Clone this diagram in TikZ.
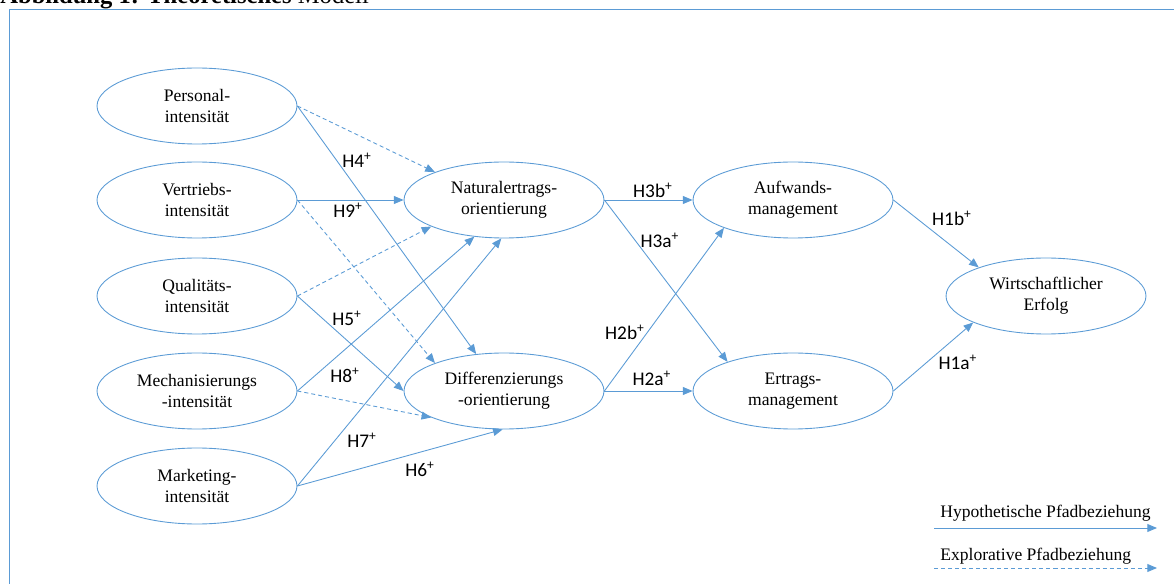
\documentclass[tikz,border=0pt]{standalone}
\usepackage{fontspec}
\setmainfont{Liberation Serif}
\newfontfamily\labelfont{Carlito}
\usetikzlibrary{shapes.geometric,arrows.meta}
\definecolor{pathblue}{HTML}{5B9BD5}
\tikzset{
  construct/.style={ellipse, draw=pathblue, line width=0.5pt, minimum width=4cm,
    minimum height=1.52cm, inner sep=0pt, align=center, font=\fontsize{10}{12}\selectfont},
  hyp/.style={draw=pathblue, line width=0.5pt, -{Triangle[length=5.5pt,width=4.5pt]}},
  expl/.style={hyp, dash pattern=on 2.3pt off 1.7pt},
  hlabel/.style={font=\labelfont\fontsize{11}{13}\selectfont, inner sep=0pt},
  legendtext/.style={anchor=base west, inner sep=0pt, font=\fontsize{10}{12}\selectfont}
}
\begin{document}
\begin{tikzpicture}[x=0.02cm, y=-0.02cm]
  \useasboundingbox (0,0) rectangle (1174,584);
  \clip (0,0) rectangle (1174,584);

  % caption and frame
  \node[anchor=base west, inner sep=0pt, font=\fontsize{14}{16}\selectfont] (title) at (0,4)
    {\textbf{Abbildung 1: Theoretisches} Modell};
  \draw[pathblue, line width=0.5pt] (9,9) rectangle (1200,600);

  % exogenous constructs
  \foreach \name/\y/\txt in {pers/106/Personal-\\intensität, vertr/200/Vertriebs-\\intensität,
      qual/296/Qualitäts-\\intensität, mech/391/Mechanisierungs\\-intensität,
      mark/486/Marketing-\\intensität} {
    \node[construct] (\name) at (197,\y) {\txt};
  }

  % strategic orientations
  \node[construct] (natur) at (504,200) {Naturalertrags-\\orientierung};
  \node[construct] (diff) at (504,391) {Differenzierungs\\-orientierung};

  % management and success
  \node[construct] (aufw) at (793,200) {Aufwands-\\management};
  \node[construct] (ertr) at (793,391) {Ertrags-\\management};
  \node[construct] (erfolg) at (1046,296) {Wirtschaftlicher\\Erfolg};

  % hypothetical paths
  \foreach \src/\dst in {vertr/natur.180, mech/natur.231, mark/natur.266,
      pers/diff.127, qual/diff.180, mark/diff.268} {
    \draw[hyp] (\src.east) -- (\dst);
  }
  \foreach \src/\dst in {natur.east/aufw.west, natur.east/ertr.156, diff.east/aufw.202,
      diff.east/ertr.west, aufw.east/erfolg.157, ertr.east/erfolg.200} {
    \draw[hyp] (\src) -- (\dst);
  }

  % explorative paths
  \foreach \src/\dst in {pers/natur.158, qual/natur.200, vertr/diff.158, mech/diff.200} {
    \draw[expl] (\src.east) -- (\dst);
  }

  % path labels
  \foreach \x/\y/\h in {357/160/4, 348/210/9, 347/318/5, 345/375/8, 362/440/7, 420/469/6,
      653/190/3b, 660/240/3a, 625/332/2b, 652/378/2a, 952/218/1b, 958/362/1a} {
    \node[hlabel] (h\h) at (\x,\y) {H\h\textsuperscript{+}};
  }

  % legend
  \node[legendtext] (hyplegend) at (940,517) {Hypothetische Pfadbeziehung};
  \coordinate (hypstart) at (934,528);
  \coordinate (hypend) at (1157,528);
  \draw[hyp] (hypstart) -- (hypend);
  \node[legendtext] (expllegend) at (940,560) {Explorative Pfadbeziehung};
  \coordinate (explstart) at (934,568);
  \coordinate (explend) at (1157,568);
  \draw[expl] (explstart) -- (explend);
\end{tikzpicture}
\end{document}
